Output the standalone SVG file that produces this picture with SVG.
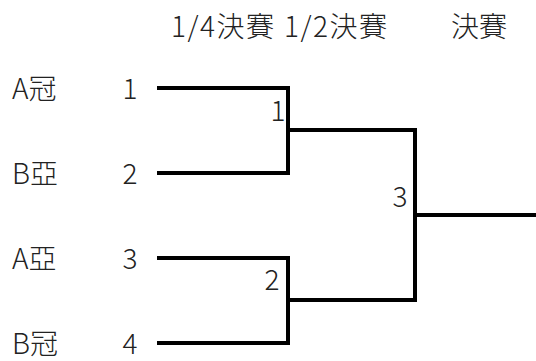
<svg xmlns="http://www.w3.org/2000/svg" width="536" height="361" viewBox="0 0 536 361">
<style>
text{font-family:"Noto Sans CJK JP","Noto Sans",sans-serif;font-size:28px;font-weight:300;fill:#222}
.h{letter-spacing:1.5px}
.n{text-anchor:middle}
.w{fill:none;stroke:#000;stroke-width:4;stroke-linecap:square}
</style>
<rect width="536" height="361" fill="#fff"/>
<g id="headers">
<text class="h" x="171" y="37">1/4決賽</text>
<text class="h" x="284" y="37">1/2決賽</text>
<text x="451" y="37">決賽</text>
</g>
<g id="team1"><text x="12" y="99">A冠</text><text class="n" x="130" y="99">1</text></g>
<g id="team2"><text x="12" y="184">B亞</text><text class="n" x="130" y="184">2</text></g>
<g id="team3"><text x="12" y="269">A亞</text><text class="n" x="130" y="269">3</text></g>
<g id="team4"><text x="12" y="354">B冠</text><text class="n" x="130" y="354">4</text></g>
<g id="match1"><text class="n" x="278" y="121">1</text></g>
<g id="match2"><text class="n" x="272" y="290">2</text></g>
<g id="match3"><text class="n" x="400" y="207">3</text></g>
<g id="connectors">
<polyline class="w" points="159,88 288,88 288,173 159,173"/>
<polyline class="w" points="159,258 288,258 288,343 159,343"/>
<polyline class="w" points="290,130 415,130 415,300 290,300"/>
<line class="w" x1="417" y1="215" x2="540" y2="215"/>
</g>
</svg>
